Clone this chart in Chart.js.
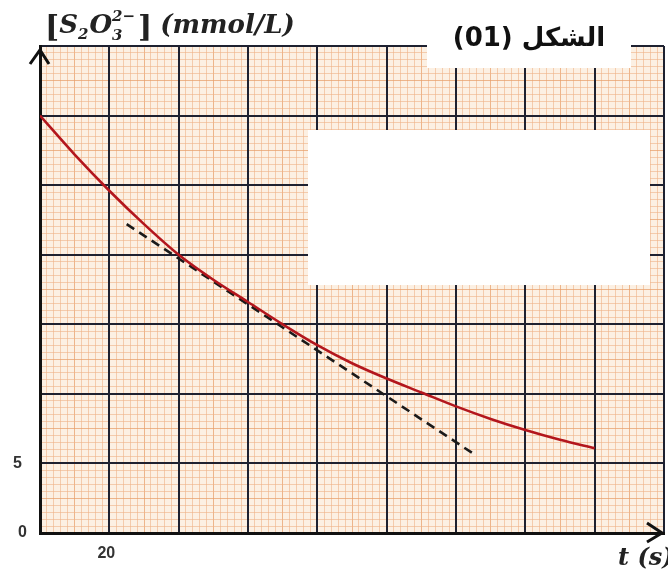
<!DOCTYPE html>
<html>
<head>
<meta charset="utf-8">
<script src="https://cdn.jsdelivr.net/npm/chart.js@4"></script>
<style>
html,body{margin:0;padding:0;background:#fff;}
#wrap{width:668px;height:574px;position:relative;}
</style>
</head>
<body>
<div id="wrap"><canvas id="c" width="668" height="574"></canvas></div>
<script>
// ---- data ----
const times = [0,10,20,30,40,50,60,70,80,90,100,110,120,130,140,150,160];
const conc  = [30,27.2,24.6,22.2,20.0,18.2,16.6,15.0,13.5,12.2,11.1,10.1,9.1,8.2,7.4,6.7,6.1];
const tangentT = [25,125];
const tangentC = [22.2,5.7];
const xTickLabels = [20];
const yTickLabels = [0,5];
const xMin = 0, xMax = 180, xMajor = 20, xMinor = 2;
const yMin = 0, yMax = 35, yMajor = 5, yMinor = 0.5;

const curveData = times.map((t,i)=>({x:t,y:conc[i]}));
const tangentData = tangentT.map((t,i)=>({x:t,y:tangentC[i]}));

const majorColor = '#1e2130';
function minorColor(v, step10){
  return (Math.round(v*10) % step10 === 0) ? 'rgba(232,158,105,0.72)' : 'rgba(238,178,135,0.6)';
}

const paperPlugin = {
  id:'paper',
  beforeDraw(chart){
    const {ctx, chartArea:a} = chart;
    ctx.save();
    ctx.fillStyle='#fff';
    ctx.fillRect(0,0,chart.width,chart.height);
    ctx.fillStyle='#fcf0e3';
    ctx.fillRect(a.left,a.top,a.right-a.left,a.bottom-a.top);
    ctx.restore();
  },
  beforeDatasetsDraw(chart){
    const ctx = chart.ctx;
    ctx.save();
    ctx.fillStyle='#fff';
    ctx.fillRect(427,0,204,68);
    ctx.fillRect(308,130,342,155);
    ctx.restore();
  },
  afterDraw(chart){
    const ctx = chart.ctx;
    const xs = chart.scales.x, ys = chart.scales.y;
    ctx.save();
    // arrows
    ctx.strokeStyle='#111'; ctx.lineWidth=3; ctx.lineJoin='miter';
    const x0 = xs.getPixelForValue(0), y0 = ys.getPixelForValue(0);
    ctx.beginPath();
    ctx.moveTo(x0-10,64); ctx.lineTo(x0,50); ctx.lineTo(x0+9,64);
    ctx.stroke();
    ctx.beginPath();
    ctx.moveTo(647,y0-10); ctx.lineTo(662,y0); ctx.lineTo(647,y0+9);
    ctx.stroke();
    // tick labels
    ctx.fillStyle='#333';
    ctx.font='bold 16px "Liberation Sans", Arial, sans-serif';
    ctx.textAlign='right'; ctx.textBaseline='middle';
    yTickLabels.forEach(v=>{
      ctx.fillText(String(v), (v===0?27:22), ys.getPixelForValue(v));
    });
    ctx.textAlign='center'; ctx.textBaseline='top';
    xTickLabels.forEach(v=>{
      ctx.fillText(String(v), xs.getPixelForValue(v)-3, 546);
    });
    // axis titles
    ctx.fillStyle='#222';
    ctx.textBaseline='alphabetic'; ctx.textAlign='left';
    const big='italic bold 26px "DejaVu Serif", serif';
    const sm='italic bold 15px "DejaVu Serif", serif';
    let x=45, base=33;
    ctx.font='bold 30px "DejaVu Serif", serif';
    ctx.fillText('[',x,base+4); x+=ctx.measureText('[').width;
    ctx.font=big; ctx.fillText('S',x,base); x+=ctx.measureText('S').width;
    ctx.font=sm; ctx.fillText('2',x,base+6); x+=ctx.measureText('2').width+1;
    ctx.font=big; ctx.fillText('O',x,base); x+=ctx.measureText('O').width;
    ctx.font=sm; ctx.fillText('2−',x,base-12); ctx.fillText('3',x,base+7);
    x+=ctx.measureText('2−').width+3;
    ctx.font='bold 30px "DejaVu Serif", serif';
    ctx.fillText(']',x,base+4); x+=ctx.measureText(']').width+8;
    ctx.font=big; ctx.fillText('(mmol/L)',x,base);
    ctx.font='italic bold 24px "DejaVu Serif", serif';
    ctx.fillText('t (s)',618,565);
    // figure title
    ctx.fillStyle='#111';
    ctx.font='bold 26px "DejaVu Sans", sans-serif';
    ctx.direction='rtl'; ctx.textAlign='center';
    ctx.fillText('الشكل (01)',529,46);
    ctx.restore();
  }
};

new Chart(document.getElementById('c'),{
  type:'line',
  data:{datasets:[
    {data:curveData,borderColor:'#b3161d',borderWidth:2.6,pointRadius:0,tension:0.4,cubicInterpolationMode:'monotone',fill:false},
    {data:tangentData,borderColor:'#1a1a1a',borderWidth:2.6,borderDash:[9,6],pointRadius:0,fill:false}
  ]},
  options:{
    responsive:false,animation:false,
    layout:{padding:{left:40,right:4,top:46,bottom:41}},
    plugins:{legend:{display:false},tooltip:{enabled:false}},
    scales:{
      xm:{type:'linear',position:'bottom',min:xMin,max:xMax,z:-1,
        ticks:{display:false,stepSize:xMinor,maxTicksLimit:1000},
        grid:{drawTicks:false,lineWidth:1,color:c=>minorColor(c.tick.value,100)},
        border:{display:false}},
      ym:{type:'linear',position:'left',min:yMin,max:yMax,z:-1,
        ticks:{display:false,stepSize:yMinor,maxTicksLimit:1000},
        grid:{drawTicks:false,lineWidth:1,color:c=>minorColor(c.tick.value,25)},
        border:{display:false}},
      x:{type:'linear',position:'bottom',min:xMin,max:xMax,
        ticks:{display:false,stepSize:xMajor},
        grid:{drawTicks:false,lineWidth:2,color:majorColor},
        border:{display:true,color:'#111',width:3}},
      y:{type:'linear',position:'left',min:yMin,max:yMax,
        ticks:{display:false,stepSize:yMajor},
        grid:{drawTicks:false,lineWidth:2,color:majorColor},
        border:{display:true,color:'#111',width:3}}
    }
  },
  plugins:[paperPlugin]
});
</script>
</body>
</html>
